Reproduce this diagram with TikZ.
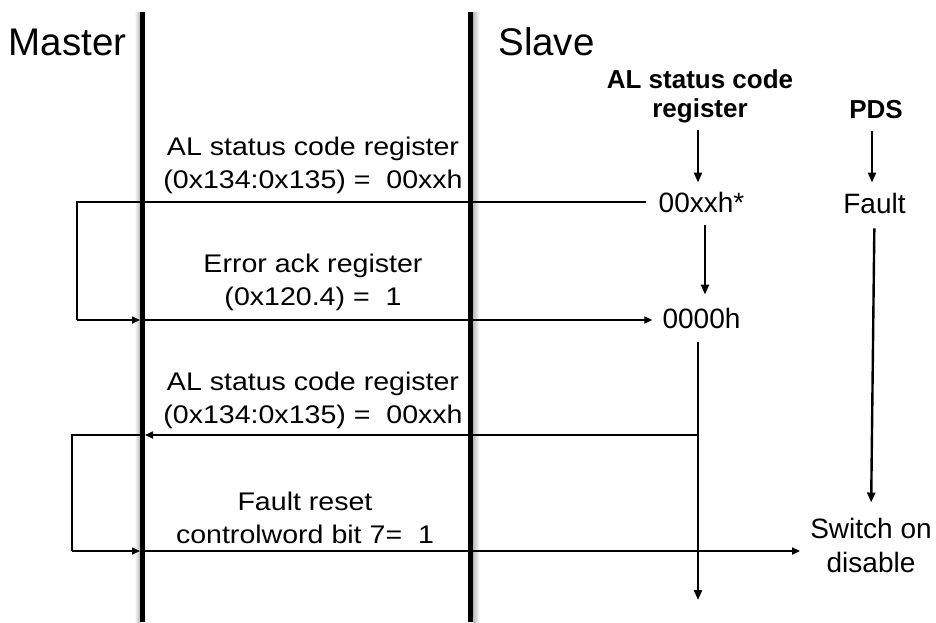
\documentclass[tikz,border=0pt]{standalone}
\usepackage{fontspec}
\setmainfont{Liberation Sans}
\newfontfamily\msgfont[FakeStretch=1.12]{Liberation Sans}
\usetikzlibrary{arrows.meta,positioning,calc}

\begin{document}
\begin{tikzpicture}
  [x=1pt,y=-1pt,
   lifeL/.style={line width=5pt},
   msgL/.style={line width=1.6pt},
   flowL/.style={line width=2.4pt},
   tipS/.style={-{Triangle[length=8pt,width=7pt]}},
   tipB/.style={-{Triangle[length=10pt,width=8pt]}},
   headT/.style={font=\fontsize{38.5}{40}\selectfont,anchor=base,inner sep=0pt},
   regT/.style={font=\bfseries\fontsize{26}{29}\selectfont,align=center,anchor=base,inner sep=0pt},
   valT/.style={font=\fontsize{28}{34}\selectfont,align=center,anchor=base,inner sep=0pt},
   msgT/.style={font=\msgfont\fontsize{25.5}{33}\selectfont,align=center,anchor=base,inner sep=0pt}]

  \useasboundingbox (0,0) rectangle (936,622);

  % life lines
  \coordinate (mTop) at (142.5,12);
  \coordinate (mBot) at (142.5,622);
  \coordinate (sTop) at (470.5,12);
  \coordinate (sBot) at (470.5,622);
  \shade[left color=white,right color=gray!60] ([xshift=-8pt]mTop) rectangle ([xshift=-2pt]mBot);
  \shade[left color=gray!60,right color=white] ([xshift=2pt]sTop) rectangle ([xshift=9pt]sBot);
  \draw[lifeL] (mTop) -- (mBot);
  \draw[lifeL] (sTop) -- (sBot);

  \node[headT] (master) at (67.5,55)  {Master};
  \node[headT] (slave)  at (546.5,55) {Slave};

  % slave side
  \node[regT] (alReg)  at (700,117)   {AL status code\\register};
  \node[regT] (pds)    at (876,118)   {PDS};
  \node[valT] (alVal)  at (701.5,212) {00xxh*};
  \node[valT] (fault)  at (874.5,213) {Fault};
  \node[valT] (alZero) at (701.5,328) {0000h};
  \node[valT] (swOff)  at (871,572)   {Switch on\\disable};

  \draw[flowL,tipB,shorten <=7pt,shorten >=9pt] ([xshift=-2pt]alReg.south) -- ([xshift=-2pt]alReg.south |- alVal.north);
  \draw[flowL,tipB,shorten <=13pt,shorten >=10pt] ([xshift=-4pt]pds.south) -- ([xshift=-4pt]pds.south |- fault.north);
  \draw[flowL,tipB,shorten <=13pt,shorten >=13pt] ([xshift=3.5pt]alVal.south) -- ([xshift=3.5pt]alVal.south |- alZero.north);
  \coordinate (alEnd) at (698,600);
  \draw[flowL,tipB,shorten <=14pt] (alEnd |- alZero.south) -- (alEnd);
  \draw[flowL,tipB,shorten <=15pt,shorten >=15pt] (fault.south) -- (swOff.north);

  % messages
  \node[msgT] (msgA) at (313,188) {AL status code register\\(0x134:0x135) =\ \ 00xxh};
  \node[msgT] (msgB) at (313,305) {Error ack register\\(0x120.4) =\ \ 1};
  \node[msgT] (msgC) at (313,423) {AL status code register\\(0x134:0x135) =\ \ 00xxh};
  \node[msgT] (msgD) at (305,543) {Fault reset\\controlword bit 7=\ \ 1};

  \coordinate (loopA) at (77,202);
  \coordinate (loopB) at (77,320);
  \coordinate (loopC) at (72,435);
  \coordinate (loopD) at (72,551);

  \draw[msgL,shorten <=13pt] (alVal.west |- loopA) -- (loopA) -- (loopB);
  \draw[msgL,tipS,shorten >=2.5pt] (loopB) -- (mTop |- loopB);
  \draw[msgL,tipS,shorten >=10pt] (mTop |- loopB) -- (loopB -| alZero.west);

  \draw[msgL,tipS,shorten >=2.5pt] (alEnd |- loopC) -- (mTop |- loopC);
  \draw[msgL] (mTop |- loopC) -- (loopC) -- (loopD);
  \draw[msgL,tipS,shorten >=2.5pt] (loopD) -- (mTop |- loopD);
  \draw[msgL,tipS,shorten >=10pt] (mTop |- loopD) -- (loopD -| swOff.west);

\end{tikzpicture}
\end{document}
